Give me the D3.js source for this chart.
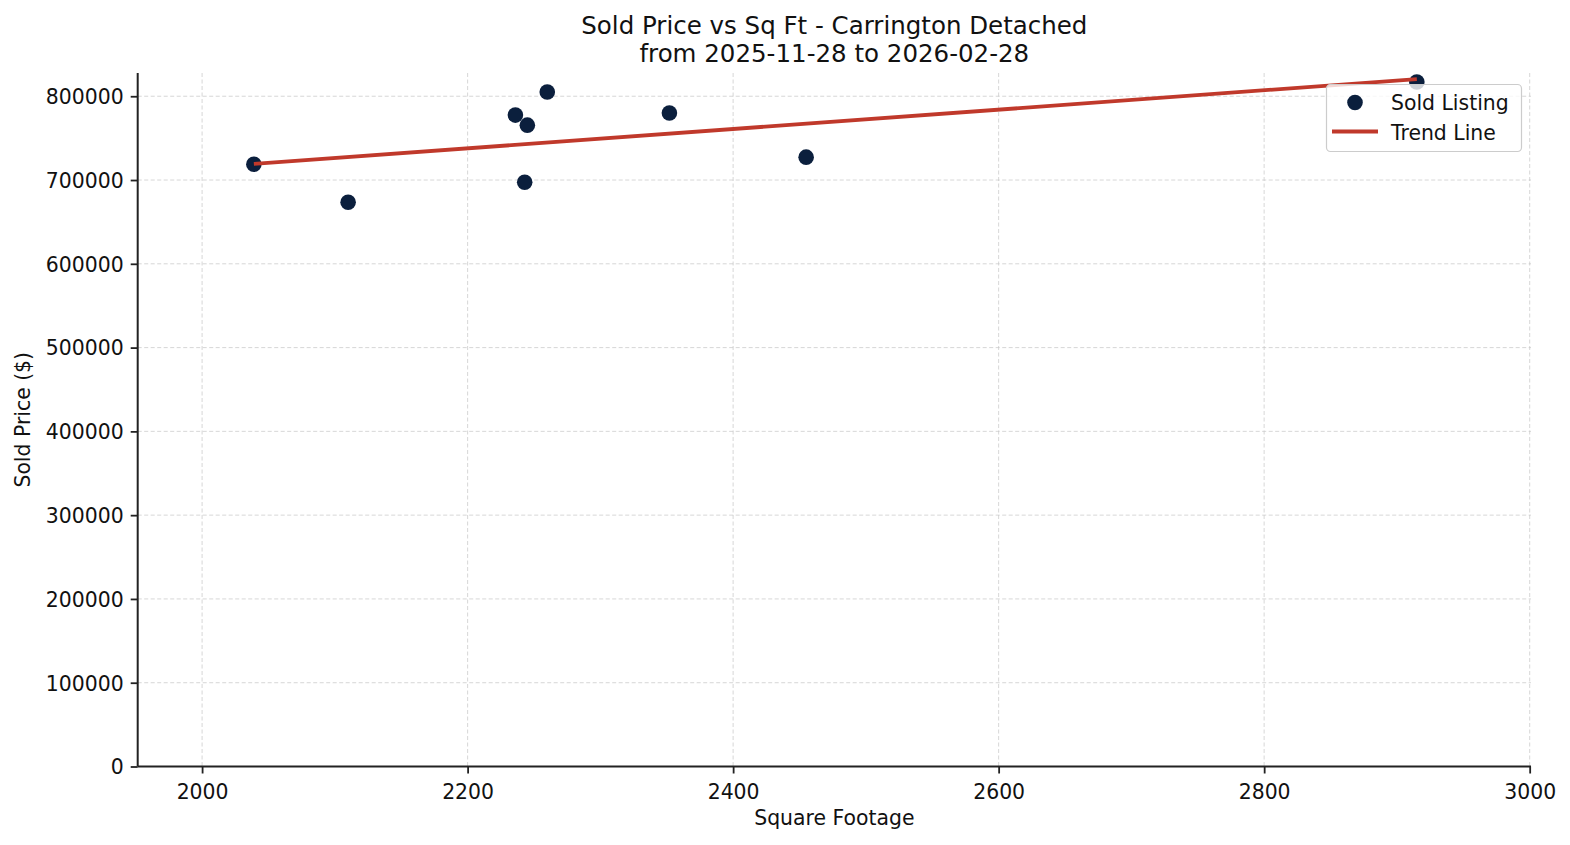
<!DOCTYPE html>
<html>
<head>
<meta charset="utf-8">
<script src="https://cdn.jsdelivr.net/npm/d3@7"></script>
<style>
  html, body { margin: 0; padding: 0; background: #fff; }
  svg { display: block; font-family: "DejaVu Sans", sans-serif; }
</style>
</head>
<body>
<svg id="chart" width="1570" height="845"></svg>
<script>
// ---- data ----
const sqft  = [2039, 2110, 2236, 2245, 2243, 2260, 2352, 2455, 2915];
const price = [718900, 673400, 777500, 765500, 697400, 805000, 780000, 727300, 817000];
const xTicks = [2000, 2200, 2400, 2600, 2800, 3000];
const yTicks = [0, 100000, 200000, 300000, 400000, 500000, 600000, 700000, 800000];
const xDomain = [1951.5, 3001];
const titleLines = ["Sold Price vs Sq Ft - Carrington Detached", "from 2025-11-28 to 2026-02-28"];
const legendLabels = ["Sold Listing", "Trend Line"];

// ---- layout ----
const svg = d3.select("#chart");
const L = 137.7, R = 1531, T = 73, B = 766.5;
const pointColor = "#0b1f3d", lineColor = "#c0392b";

// least-squares trend line
const n = sqft.length;
const mx = d3.mean(sqft), my = d3.mean(price);
let sxy = 0, sxx = 0;
for (let i = 0; i < n; i++) { sxy += (sqft[i]-mx)*(price[i]-my); sxx += (sqft[i]-mx)**2; }
const slope = sxy / sxx, intercept = my - slope * mx;
const xMin = d3.min(sqft), xMax = d3.max(sqft);
const trend = [[xMin, intercept + slope*xMin], [xMax, intercept + slope*xMax]];

const allY = price.concat(trend.map(d => d[1]));
const yMaxD = d3.max(allY), yMinD = d3.min(allY);
const yTop = yMaxD + 0.05 * (yMaxD - yMinD);

const x = d3.scaleLinear().domain(xDomain).range([L, R]);
const y = d3.scaleLinear().domain([0, yTop]).range([B, T]);

// grid
const grid = svg.append("g");
grid.selectAll("line.gx").data(xTicks).join("line")
  .attr("x1", d => x(d)).attr("x2", d => x(d)).attr("y1", T).attr("y2", B)
  .attr("stroke", "#c8c8c8").attr("stroke-width", 0.9).attr("stroke-dasharray", "4,2.5").attr("opacity", 0.8);
grid.selectAll("line.gy").data(yTicks).join("line")
  .attr("x1", L).attr("x2", R).attr("y1", d => y(d)).attr("y2", d => y(d))
  .attr("stroke", "#c8c8c8").attr("stroke-width", 0.9).attr("stroke-dasharray", "4,2.5").attr("opacity", 0.8);

// axes
const xAxis = d3.axisBottom(x).tickValues(xTicks).tickFormat(d3.format("d")).tickSize(7).tickPadding(6);
const yAxis = d3.axisLeft(y).tickValues(yTicks).tickFormat(d3.format("d")).tickSize(7).tickPadding(7);
const gx = svg.append("g").attr("transform", `translate(0,${B})`).call(xAxis);
const gy = svg.append("g").attr("transform", `translate(${L},0)`).call(yAxis);
[gx, gy].forEach(g => {
  g.select(".domain").attr("stroke", "#222").attr("stroke-width", 2);
  g.selectAll(".tick line").attr("stroke", "#222").attr("stroke-width", 1.8);
  g.selectAll(".tick text").attr("font-size", "20.4px").attr("fill", "#111")
    .attr("font-family", "DejaVu Sans, sans-serif");
});
gx.select(".domain").attr("d", `M${L},0H${R}`);
gy.select(".domain").attr("d", `M0,${B}V${T}`);
gx.selectAll(".tick text").attr("dy", "0.95em");
gy.selectAll(".tick text").attr("dy", "0.36em");

// points
svg.append("g").selectAll("circle").data(sqft.map((s, i) => [s, price[i]])).join("circle")
  .attr("cx", d => x(d[0])).attr("cy", d => y(d[1])).attr("r", 7.8).attr("fill", pointColor);

// trend line
svg.append("path").datum(trend)
  .attr("d", d3.line().x(d => x(d[0])).y(d => y(d[1])))
  .attr("fill", "none").attr("stroke", lineColor).attr("stroke-width", 3.8);

// titles and labels
const title = svg.append("text").attr("text-anchor", "middle").attr("font-size", "24.5px").attr("fill", "#111");
titleLines.forEach((t, i) => title.append("tspan").attr("x", (L+R)/2).attr("y", 34 + i*28).text(t));
svg.append("text").attr("x", (L+R)/2).attr("y", 825).attr("text-anchor", "middle")
  .attr("font-size", "20.4px").attr("fill", "#111").text("Square Footage");
svg.append("text").attr("transform", `translate(30,${(T+B)/2}) rotate(-90)`).attr("text-anchor", "middle")
  .attr("font-size", "20.4px").attr("fill", "#111").text("Sold Price ($)");

// legend
const lg = svg.append("g");
lg.append("rect").attr("x", 1326.5).attr("y", 84.5).attr("width", 195).attr("height", 67).attr("rx", 4)
  .attr("fill", "#fff").attr("fill-opacity", 0.8).attr("stroke", "#cccccc").attr("stroke-width", 1.2);
lg.append("circle").attr("cx", 1355).attr("cy", 102.5).attr("r", 7.8).attr("fill", pointColor);
lg.append("line").attr("x1", 1332).attr("x2", 1378).attr("y1", 131.5).attr("y2", 131.5)
  .attr("stroke", lineColor).attr("stroke-width", 3.8);
legendLabels.forEach((t, i) => lg.append("text").attr("x", 1391).attr("y", 109.5 + i*30)
  .attr("font-size", "20.4px").attr("fill", "#111").text(t));
</script>
</body>
</html>
